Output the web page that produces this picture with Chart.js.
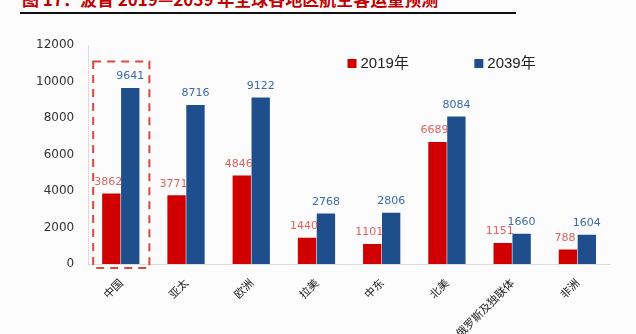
<!DOCTYPE html>
<html>
<head>
<meta charset="utf-8">
<script src="https://cdn.jsdelivr.net/npm/chart.js@4.4.1/dist/chart.umd.min.js"></script>
<style>
  html, body { margin: 0; padding: 0; background: #fcfcfd; overflow: hidden; }
  #wrap { position: relative; width: 636px; height: 334px; overflow: hidden; }
  #title { position: absolute; left: 22px; top: -14px; font: bold 17px "Noto Sans CJK SC", sans-serif; color: #c00000; white-space: nowrap; }
  #rule { position: absolute; left: 20px; top: 12px; width: 496px; height: 2px; background: #111; }
  #box { position: absolute; left: 0; top: 20px; width: 636px; height: 314px; }
</style>
</head>
<body>
<div id="wrap">
  <div id="title">图 17：波音 2019—2039 年全球各地区航空客运量预测</div>
  <div id="rule"></div>
  <div id="box"><canvas id="chart"></canvas></div>
</div>
<script>
// ===============================================
// DATA
// ===============================================
const regions = ['中国', '亚太', '欧洲', '拉美', '中东', '北美', '俄罗斯及独联体', '非洲'];
const values2019 = [3862, 3771, 4846, 1440, 1101, 6689, 1151, 788];
const values2039 = [9641, 8716, 9122, 2768, 2806, 8084, 1660, 1604];
const yTicks = [0, 2000, 4000, 6000, 8000, 10000, 12000];
const seriesNames = ['2019年', '2039年'];

const RED = '#d00000';
const BLUE = '#1f4e8d';
const RED_LABEL = '#e06262';
const BLUE_LABEL = '#3d6aa8';

// value labels over bars
const valueLabels = {
    id: 'valueLabels',
    afterDatasetsDraw(chart) {
        const ctx = chart.ctx;
        ctx.save();
        ctx.font = '11px "DejaVu Sans", sans-serif';
        ctx.textAlign = 'center';
        ctx.textBaseline = 'bottom';
        chart.data.datasets.forEach((ds, i) => {
            ctx.fillStyle = i === 0 ? RED_LABEL : BLUE_LABEL;
            chart.getDatasetMeta(i).data.forEach((bar, j) => {
                ctx.fillText(String(ds.data[j]), bar.x - (i === 0 ? 3 : 0), bar.y - 6);
            });
        });
        ctx.restore();
    }
};

// legend drawn inside the plot, top right
const innerLegend = {
    id: 'innerLegend',
    afterDraw(chart) {
        const ctx = chart.ctx;
        const { left, right, top } = chart.chartArea;
        const w = right - left;
        const starts = [left + w * 0.497, left + w * 0.74];
        ctx.save();
        ctx.font = '15px "Liberation Sans", "Noto Sans CJK SC", sans-serif';
        ctx.textBaseline = 'middle';
        const y = top + 18;
        seriesNames.forEach((name, i) => {
            ctx.fillStyle = i === 0 ? RED : BLUE;
            ctx.fillRect(starts[i], y - 4, 9, 9);
            ctx.fillStyle = '#222';
            ctx.fillText(name, starts[i] + 13, y + 1);
        });
        ctx.restore();
    }
};

// dashed highlight round the first category
const highlight = {
    id: 'highlight',
    afterDraw(chart) {
        const x = chart.scales.x, y = chart.scales.y;
        const c = x.getPixelForValue(0);
        const half = (x.getPixelForValue(1) - c) / 2;
        const l = c - half + 5, r = c + half - 4;
        const t = y.getPixelForValue(11100);
        const b = chart.chartArea.bottom + 4;
        const ctx = chart.ctx;
        ctx.save();
        ctx.strokeStyle = '#d94a3a';
        ctx.lineWidth = 2;
        ctx.setLineDash([8, 6]);
        ctx.strokeRect(l, t, r - l, b - t);
        ctx.restore();
    }
};

new Chart(document.getElementById('chart'), {
    type: 'bar',
    data: {
        labels: regions,
        datasets: [
            { label: seriesNames[0], data: values2019, backgroundColor: RED },
            { label: seriesNames[1], data: values2039, backgroundColor: BLUE }
        ]
    },
    options: {
        responsive: true,
        maintainAspectRatio: false,
        animation: false,
        datasets: { bar: { categoryPercentage: 0.58, barPercentage: 0.97 } },
        layout: { padding: { left: 22, right: 26, top: 25, bottom: 0 } },
        plugins: {
            legend: { display: false },
            tooltip: { enabled: false }
        },
        scales: {
            x: {
                grid: { display: false, drawTicks: false },
                border: { color: '#dcdcdc' },
                afterFit(axis) { axis.height = 70; },
                ticks: {
                    minRotation: 45, maxRotation: 45, padding: 12,
                    color: '#222',
                    font: { size: 11, family: '"Noto Sans CJK SC", sans-serif' }
                }
            },
            y: {
                min: 0, max: 12000,
                afterBuildTicks(axis) { axis.ticks = yTicks.map(v => ({ value: v })); },
                grid: { display: false, drawTicks: false },
                border: { color: '#dcdcdc' },
                ticks: {
                    padding: 14,
                    color: '#333',
                    callback: v => String(v),
                    font: { size: 12, family: '"DejaVu Sans", sans-serif' }
                }
            }
        }
    },
    plugins: [valueLabels, innerLegend, highlight]
});
</script>
</body>
</html>
